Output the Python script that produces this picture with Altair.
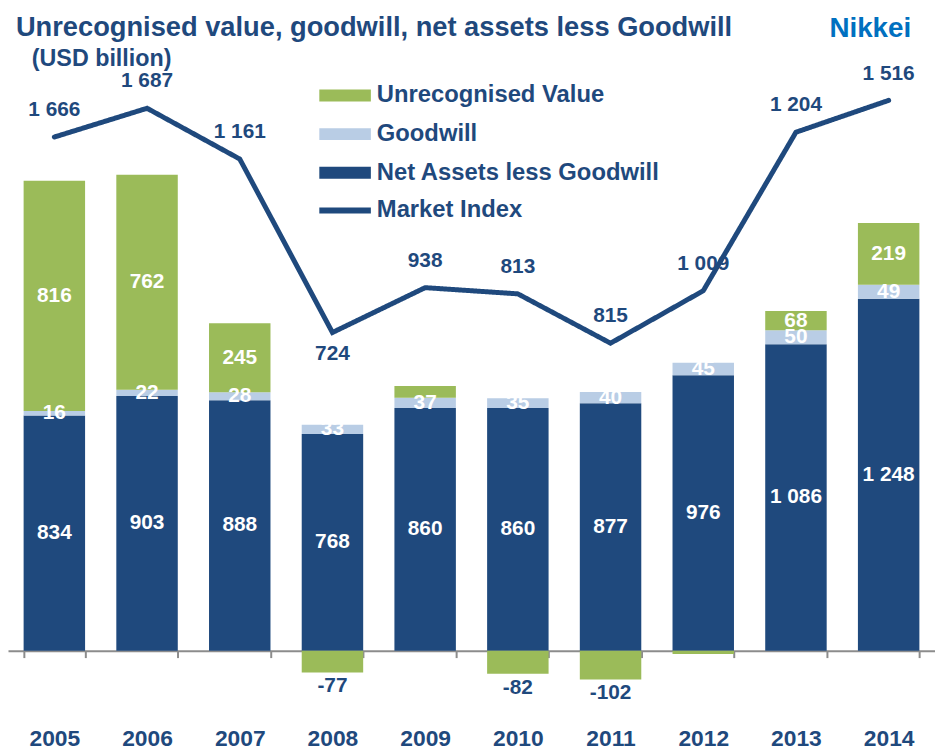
import altair as alt
import pandas as pd

# ---------------- data ----------------
years = ["2005", "2006", "2007", "2008", "2009", "2010", "2011", "2012", "2013", "2014"]
net_assets = [834, 903, 888, 768, 860, 860, 877, 976, 1086, 1248]
goodwill = [16, 22, 28, 33, 37, 35, 40, 45, 50, 49]
unrecognised = [816, 762, 245, -77, 41, -82, -102, -12, 68, 219]
market_index = [1666, 1687, 1161, 724, 938, 813, 815, 1009, 1204, 1516]
# height of the market-index line as drawn (hidden secondary scale)
index_line = [1821, 1923, 1743, 1128, 1287, 1265, 1090, 1276, 1838, 1951]

series_names = ["Unrecognised Value", "Goodwill", "Net Assets less Goodwill"]

NAVY = "#1F497D"
GREEN = "#9BBB59"
LBLUE = "#B9CDE5"
FONT = "Liberation Sans"

rows = []
for i, yr in enumerate(years):
    rows.append({"year": yr, "series": "Net Assets less Goodwill", "value": net_assets[i], "order": 0})
    rows.append({"year": yr, "series": "Goodwill", "value": goodwill[i], "order": 1})
    rows.append({"year": yr, "series": "Unrecognised Value", "value": unrecognised[i], "order": 2})
bars_df = pd.DataFrame(rows)

line_df = pd.DataFrame({
    "year": years,
    "level": index_line,
    "index": market_index,
    "line_series": ["Market Index"] * len(years),
})

W, H = 935, 630
Y_DOMAIN = [-130.05, 2084.4]
yscale = alt.Scale(domain=Y_DOMAIN, nice=False, zero=False)

x_enc = alt.X(
    "year:O",
    scale=alt.Scale(paddingInner=0.337, paddingOuter=0.1685),
    axis=alt.Axis(
        title=None, labelAngle=0, orient="bottom", offset=-37, tickBand="extent",
        domainColor="#8C8C8C", domainWidth=2, tickColor="#8C8C8C", tickWidth=2, tickSize=7,
        labelFontSize=23, labelFont=FONT, labelFontWeight="bold", labelColor=NAVY,
        labelBaseline="alphabetic", labelPadding=88.5, grid=False,
    ),
)

label_expr = ("abs(datum.value) >= 1000 ? replace(format(datum.value, ','), ',', ' ') "
              ": toString(datum.value)")

base = (
    alt.Chart(bars_df)
    .transform_stack(stack="value", groupby=["year"], as_=["v0", "v1"],
                     sort=[alt.SortField("order", "ascending")])
    .transform_calculate(mid="(datum.v0 + datum.v1) / 2", label=label_expr)
)

bars = base.mark_bar().encode(
    x=x_enc,
    y=alt.Y("v0:Q", scale=yscale, axis=None),
    y2="v1:Q",
    color=alt.Color(
        "series:N",
        scale=alt.Scale(domain=series_names, range=[GREEN, LBLUE, NAVY]),
        legend=alt.Legend(
            title=None, orient="none", legendX=328, legendY=21,
            symbolType="M-4.333,-1H4.333V1H-4.333Z", symbolSize=144, symbolStrokeWidth=0,
            symbolOpacity=1, labelFontSize=24, labelFont=FONT, labelFontWeight="bold",
            labelColor=NAVY, labelOffset=20, rowPadding=15, padding=0, labelLimit=500,
        ),
    ),
    order=alt.Order("order:Q"),
)

inside_labels = base.transform_filter(
    "datum.series != 'Unrecognised Value' || datum.value >= 50"
).mark_text(color="white", font=FONT, fontWeight="bold", fontSize=21, baseline="middle").encode(
    x="year:O",
    y=alt.Y("mid:Q", scale=yscale),
    text="label:N",
)

neg_labels = base.transform_filter(
    "datum.series == 'Unrecognised Value' && datum.value <= -50"
).mark_text(color=NAVY, font=FONT, fontWeight="bold", fontSize=21, baseline="top", dy=3).encode(
    x="year:O",
    y=alt.Y("v1:Q", scale=yscale),
    text="label:N",
)

line_base = alt.Chart(line_df).transform_calculate(
    ilabel="datum.index >= 1000 ? replace(format(datum.index, ','), ',', ' ') : toString(datum.index)"
)

line = line_base.mark_line(color=NAVY, strokeWidth=5, strokeCap="round", strokeJoin="miter").encode(
    x="year:O",
    y=alt.Y("level:Q", scale=yscale),
    strokeDash=alt.StrokeDash(
        "line_series:N",
        scale=alt.Scale(domain=["Market Index"], range=[[1, 0]]),
        legend=alt.Legend(
            title=None, orient="none", legendX=328, legendY=137,
            symbolType="M-4.333,0H4.333", symbolSize=144, symbolStrokeWidth=6,
            symbolStrokeColor=NAVY, symbolFillColor="transparent", symbolDash=[1, 0],
            labelFontSize=24, labelFont=FONT, labelFontWeight="bold",
            labelColor=NAVY, labelOffset=20, padding=0, labelLimit=500,
        ),
    ),
)

line_labels_above = line_base.transform_filter("datum.year != '2008'").mark_text(
    color=NAVY, font=FONT, fontWeight="bold", fontSize=21, baseline="middle", dy=-27
).encode(
    x="year:O",
    y=alt.Y("level:Q", scale=yscale),
    text="ilabel:N",
)

line_labels_below = line_base.transform_filter("datum.year == '2008'").mark_text(
    color=NAVY, font=FONT, fontWeight="bold", fontSize=21, baseline="middle", dy=22
).encode(
    x="year:O",
    y=alt.Y("level:Q", scale=yscale),
    text="ilabel:N",
)

title = alt.Chart(pd.DataFrame({"t": ["Unrecognised value, goodwill, net assets less Goodwill"]})).mark_text(
    font=FONT, fontWeight="bold", fontSize=27.5, color=NAVY, align="left", baseline="alphabetic"
).encode(x=alt.value(8), y=alt.value(-27), text="t:N")

subtitle = alt.Chart(pd.DataFrame({"t": ["(USD billion)"]})).mark_text(
    font=FONT, fontWeight="bold", fontSize=23.5, color=NAVY, align="left", baseline="alphabetic"
).encode(x=alt.value(24), y=alt.value(3), text="t:N")

brand = alt.Chart(pd.DataFrame({"t": ["Nikkei"]})).mark_text(
    font=FONT, fontWeight="bold", fontSize=28, color="#0070C0", align="right", baseline="alphabetic"
).encode(x=alt.value(911), y=alt.value(-26), text="t:N")

chart = (
    alt.layer(bars, line, inside_labels, neg_labels, line_labels_above, line_labels_below,
              title, subtitle, brand)
    .properties(
        width=W, height=H,
        autosize=alt.AutoSizeParams(type="none"),
        padding={"left": 0, "top": 52, "right": 0, "bottom": 60},
    )
    .configure_view(strokeWidth=0)
)

chart.save("out.html", embed_options={"renderer": "svg", "actions": False})
